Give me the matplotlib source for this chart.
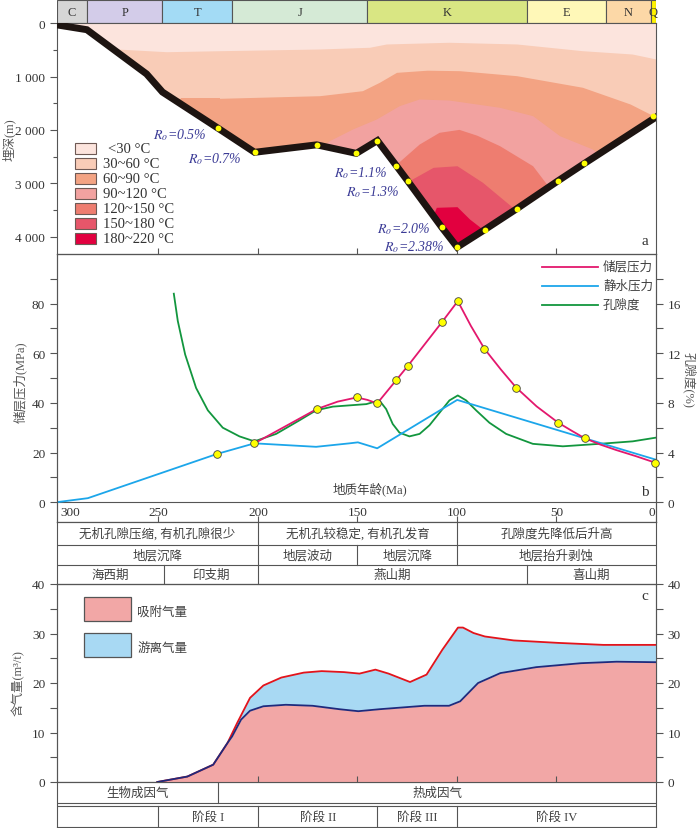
import matplotlib
matplotlib.use("Agg")
import matplotlib.pyplot as plt
import matplotlib.ticker as mtick
from matplotlib.patches import Polygon, Rectangle
from matplotlib.lines import Line2D

plt.rcParams.update({
    "font.family": ["Liberation Serif", "Noto Sans CJK SC"],
    "mathtext.fontset": "stix",
    "axes.linewidth": 0.8,
    "axes.edgecolor": "#555555",
    "xtick.color": "#555555",
    "ytick.color": "#555555",
    "xtick.labelcolor": "#333333",
    "ytick.labelcolor": "#333333",
    "font.size": 9.5,
})

# ---------------- data ----------------
# geologic column (Ma)
period_names = ["C", "P", "T", "J", "K", "E", "N", "Q"]
period_old = [301, 286, 248, 213, 145, 65, 25, 2.6]
period_young = [286, 248, 213, 145, 65, 25, 2.6, 0]
period_colors = ["#d6d6d6", "#d3cce9", "#a3dbf5", "#d5ead6", "#d9e683",
                 "#fff8b8", "#fcd8a7", "#fff200"]

# burial history
burial_t = [301, 286, 256, 248, 220, 201.7, 170.5, 150.6, 140, 130.5, 124.7,
            107.6, 99.9, 86, 70, 49, 36, 0]
burial_d = [30, 120, 950, 1290, 1970, 2420, 2280, 2440, 2200, 2670, 2960,
            3830, 4200, 3870, 3480, 2950, 2630, 1760]
burial_dot_t = [220, 201.7, 170.5, 150.6, 140, 130.5, 124.7, 107.6, 99.9, 86,
                70, 49, 36, 1.5]
burial_dot_d = [1970, 2420, 2280, 2440, 2200, 2670, 2960, 3830, 4200, 3870,
                3480, 2950, 2630, 1745]

# isotherms (Ma, depth m)
iso30_t = [285, 271, 246, 219, 169, 144, 135.5, 104, 70, 37, 12, 0]
iso30_d = [480, 482, 533, 514, 482, 450, 388, 356, 388, 514, 576, 670]
iso60_t = [255, 239, 219, 169, 147.5, 139, 130.4, 115, 98.7, 70, 37, 13, 0]
iso60_d = [1400, 1407, 1407, 1358, 1264, 1107, 920, 880, 889, 983, 1200, 1514, 1760]
iso90_t = [175, 164, 152.5, 140.5, 129, 119, 104, 78.6, 62, 48.5, 32, 20]
iso90_d = [2500, 2200, 1983, 1795, 1545, 1420, 1440, 1576, 1733, 2108, 2358, 2700]
iso120_t = [136, 131.4, 119, 109, 99, 90, 78.6, 62, 55, 50]
iso120_d = [2950, 2672, 2265, 2045, 1990, 2100, 2296, 2672, 3015, 3300]
iso150_t = [128, 125.5, 112, 100, 87.2, 72.1, 68]
iso150_d = [3200, 2983, 2702, 2672, 2983, 3452, 3700]
iso180_t = [113, 110.4, 100, 93.7, 87.2, 84]
iso180_d = [3700, 3452, 3440, 3672, 3860, 4100]

temp_labels = ["<30 °C", "30~60 °C", "60~90 °C", "90~120 °C",
               "120~150 °C", "150~180 °C", "180~220 °C"]
temp_colors = ["#fce4dd", "#f9ccb7", "#f3a383", "#f2a2a0",
               "#ee7d70", "#e6566a", "#e2003f"]

ro_labels = ["0.5%", "0.7%", "1.1%", "1.3%", "2.0%", "2.38%"]
ro_t = [225.9, 208.3, 134.9, 128.9, 113.3, 106.3]
ro_d = [2077, 2527, 2790, 3141, 3841, 4179]

# pressure / porosity
pr_t = [201.8, 170.5, 160, 150.4, 145, 140.1, 130.6, 124.7, 107.6, 99.6, 93,
        86.2, 78, 70.3, 60, 49.1, 42, 35.9, 28, 20, 10, 0]
pr_v = [23.7, 37.5, 40.5, 42.2, 41.2, 39.8, 49.1, 54.9, 72.5, 81, 71, 61.8,
        53.5, 46.2, 38.6, 32, 28.6, 25.8, 23.2, 21.0, 18.5, 15.8]
pr_dot_t = [220.7, 201.8, 170.5, 150.4, 140.1, 130.6, 124.7, 107.6, 99.6,
            86.2, 70.3, 49.1, 35.9, 0.3]
pr_dot_v = [19.4, 23.7, 37.5, 42.2, 39.8, 49.1, 54.9, 72.5, 81, 61.8, 46.2,
            32, 25.8, 15.8]
hp_t = [301, 285.5, 220.7, 201.8, 170.8, 154, 149.8, 140.1, 99.9, 0]
hp_v = [0, 1.6, 19.4, 23.7, 22.3, 23.7, 24.1, 21.7, 41.2, 17.1]
por_t = [242.3, 240.3, 236.6, 231.1, 225.2, 217.7, 209.3, 201.8, 190.9, 179.1,
         170.8, 162.4, 154, 145.6, 139, 135.6, 132.3, 128.9, 123.9, 118.8,
         113.8, 108.8, 103.8, 99.6, 95.4, 90.4, 83.7, 75.3, 61.9, 46.8, 28.4,
         11.7, 0]
por_v = [16.8, 14.6, 11.9, 9.2, 7.4, 6.0, 5.3, 4.9, 5.5, 6.6, 7.4, 7.7, 7.8,
         7.9, 8.2, 7.5, 6.3, 5.6, 5.3, 5.5, 6.2, 7.2, 8.2, 8.6, 8.2, 7.4, 6.4,
         5.5, 4.7, 4.5, 4.7, 4.9, 5.2]

# gas content
tot_t = [250.6, 235.5, 222.5, 215.3, 210.5, 204, 197.3, 188.3, 177, 168,
         156.8, 149, 141, 134.4, 123.6, 115.3, 107.4, 99.5, 97, 91.7, 86,
         71.5, 49, 26.5, 0]
tot_v = [0, 1.1, 3.5, 7.9, 11.9, 17.0, 19.5, 21.1, 22.1, 22.4, 22.2, 21.9,
         22.7, 21.9, 20.2, 21.7, 26.7, 31.2, 31.2, 30.1, 29.4, 28.6, 28.1,
         27.7, 27.7]
ads_t = [250.6, 235.5, 222.5, 215.3, 213, 208.5, 204, 197.3, 186, 172.6, 159,
         149.6, 139, 116.4, 104, 98.4, 89.4, 78.2, 60.2, 37.7, 19.8, 0]
ads_v = [0, 1.1, 3.5, 7.9, 9.2, 12.6, 14.4, 15.3, 15.6, 15.4, 14.7, 14.3,
         14.7, 15.4, 15.4, 16.3, 20, 22, 23.2, 24, 24.3, 24.2]

# table rows (text, cell boundaries in Ma)
row_pore = ["无机孔隙压缩, 有机孔隙很少", "无机孔较稳定, 有机孔发育", "孔隙度先降低后升高"]
row_pore_b = [301, 200, 100, 0]
row_strata = ["地层沉降", "地层波动", "地层沉降", "地层抬升剥蚀"]
row_strata_b = [301, 200, 150, 100, 0]
row_orog = ["海西期", "印支期", "燕山期", "喜山期"]
row_orog_b = [301, 247, 200, 65, 0]
row_gas = ["生物成因气", "热成因气"]
row_gas_b = [301, 220, 0]
row_stage = ["", "阶段 I", "阶段 II", "阶段 III", "阶段 IV"]
row_stage_b = [301, 250, 200, 140, 100, 0]

# ---------------- figure ----------------
W, H = 700, 829
fig = plt.figure(figsize=(W / 100, H / 100), dpi=100)
TXT = "#404040"
EDGE = "#555555"


def box(x0, y0, x1, y1):
    return fig.add_axes([x0 / W, 1 - y1 / H, (x1 - x0) / W, (y1 - y0) / H])


def ftext(px, py, s, **kw):
    fig.text(px / W, 1 - py / H, s, **kw)


XL, XR = 57, 656
AGE = (301, 0)

# geologic column
ax_col = box(XL, 1, XR, 24.3)
ax_col.set_xlim(*AGE)
ax_col.set_ylim(0, 1)
ax_col.barh(0.5, [o - y for o, y in zip(period_old, period_young)], left=period_young,
            height=1, color=period_colors, edgecolor=EDGE, linewidth=0.8)
for n, o, y in zip(period_names, period_old, period_young):
    ax_col.text((o + y) / 2, 0.5, n, ha="center", va="center", fontsize=9,
                color="#333333", clip_on=False)
ax_col.set_xticks([])
ax_col.set_yticks([])
for s in ax_col.spines.values():
    s.set_visible(False)

# ---- panel a ----
ax_a = box(XL, 24.3, XR, 255)
ax_a.set_xlim(*AGE)
ax_a.set_ylim(4328, 0)
clip = Polygon(list(zip(burial_t, burial_d)) + [(0, 0), (301, 0)], closed=True,
               transform=ax_a.transData)
isos = [(iso30_t, iso30_d), (iso60_t, iso60_d), (iso90_t, iso90_d),
        (iso120_t, iso120_d), (iso150_t, iso150_d), (iso180_t, iso180_d)]
fb = ax_a.fill_between([301, 0], 0, 5000, color=temp_colors[0], lw=0)
fb.set_clip_path(clip)
for (t, d), col in zip(isos, temp_colors[1:]):
    fb = ax_a.fill_between(t, d, 5000, color=col, lw=0)
    fb.set_clip_path(clip)
ax_a.plot(burial_t, burial_d, color="#1d1411", lw=5, solid_joinstyle="miter",
          zorder=5)
ax_a.plot(burial_dot_t, burial_dot_d, "o", color="#ffff00", ms=4.2, mew=0,
          zorder=6, clip_on=False)
for lab, t, d in zip(ro_labels, ro_t, ro_d):
    ax_a.text(t, d, r"$R_o$=" + lab, ha="right", va="center", fontsize=10,
              color="#3b3b96", fontstyle="italic")
ax_a.set_yticks([0, 1000, 2000, 3000, 4000])
ax_a.set_yticklabels(["0", "1 000", "2 000", "3 000", "4 000"])
ax_a.yaxis.set_minor_locator(mtick.MultipleLocator(500))
ax_a.tick_params(axis="y", which="major", length=5, width=0.8, direction="out")
ax_a.tick_params(axis="y", which="minor", length=3, width=0.8, direction="out")
ax_a.set_xticks([250, 200, 150, 100, 50])
ax_a.tick_params(axis="x", direction="in", length=4, labelbottom=False)
ax_a.text(5.5, 4084, "a", ha="center", va="center", fontsize=11, color="#333333")

# legend of temperature
for i, (lab, col) in enumerate(zip(temp_labels, temp_colors)):
    cy = 149.5 + 15 * i
    fig.add_artist(Rectangle((75 / W, 1 - (cy + 5.5) / H), 21 / W, 11 / H,
                             transform=fig.transFigure, facecolor=col,
                             edgecolor="#6e5a55", linewidth=0.8))
    ftext(103 if i else 108, cy, lab, ha="left", va="center", fontsize=10.5,
          color="#333333")

ftext(9, 140, "埋深(m)", rotation=90, ha="center", va="center", fontsize=9,
      color="#555555")

# ---- panel b ----
ax_b = box(XL, 255, XR, 523)
ax_b2 = ax_b.twinx()
ax_b.set_zorder(ax_b2.get_zorder() + 1)
ax_b.patch.set_visible(False)
ax_b.set_xlim(*AGE)
ax_b.set_ylim(-8, 100)
ax_b2.set_ylim(-1.6, 20)
ax_b.axhline(0, color=EDGE, lw=0.8)
ax_b2.plot(por_t, por_v, color="#12963e", lw=1.3)
ax_b.plot(hp_t, hp_v, color="#1ca6ea", lw=1.3)
ax_b.plot(pr_t, pr_v, color="#e3186d", lw=1.3)
ax_b.plot(pr_dot_t, pr_dot_v, "o", color="#ffff00", ms=5.5, mec="#444444",
          mew=0.6, zorder=6, clip_on=False)
ax_b.set_yticks([0, 20, 40, 60, 80])
ax_b.yaxis.set_minor_locator(mtick.FixedLocator([10, 30, 50, 70, 90]))
ax_b.tick_params(axis="y", which="major", length=5, width=0.8)
ax_b.tick_params(axis="y", which="minor", length=5, width=0.8)
ax_b2.set_yticks([0, 4, 8, 12, 16])
ax_b2.yaxis.set_minor_locator(mtick.FixedLocator([2, 6, 10, 14, 18]))
ax_b2.tick_params(axis="y", which="both", length=5, width=0.8)
ax_b.set_xticks([250, 200, 150, 100, 50])
ax_b.tick_params(axis="x", direction="in", length=4, labelbottom=False)
for v in [300, 250, 200, 150, 100, 50, 0]:
    ha = "left" if v == 300 else ("right" if v == 0 else "center")
    x = 299.5 if v == 300 else (0.5 if v == 0 else v)
    ax_b.text(x, -3.8, str(v), ha=ha, va="center", fontsize=9.5, color="#333333")
ax_b.text(144, 5.5, "地质年龄(Ma)", ha="center", va="center", fontsize=9,
          color=TXT)
ax_b.text(5.8, 4.3, "b", ha="center", va="center", fontsize=11, color="#333333")

leg_items = [("储层压力", "#e3186d"), ("静水压力", "#1ca6ea"), ("孔隙度", "#12963e")]
for i, (lab, col) in enumerate(leg_items):
    py = 267.7 + 19 * i
    fig.add_artist(Line2D([541.7 / W, 598 / W], [1 - py / H, 1 - py / H],
                          transform=fig.transFigure, color=col, lw=1.3))
    ftext(603, py, lab, ha="left", va="center", fontsize=9, color=TXT)

ftext(20, 382, "储层压力(MPa)", rotation=90, ha="center", va="center",
      fontsize=9, color="#555555")
ftext(689, 380, "孔隙度(%)", rotation=270, ha="center", va="center",
      fontsize=9, color="#555555")


# ---- table helpers ----
def table_row(ax, y0, y1, labels, bounds):
    for b in bounds[1:-1]:
        ax.plot([b, b], [y0, y1], color=EDGE, lw=0.8)
    for lab, a, b in zip(labels, bounds[:-1], bounds[1:]):
        ax.text((a + b) / 2, (y0 + y1) / 2, lab, ha="center", va="center",
                fontsize=9, color=TXT)


def table_axes(y0, y1):
    ax = box(XL, y0, XR, y1)
    ax.set_xlim(*AGE)
    ax.set_ylim(y1, y0)
    ax.set_xticks([])
    ax.set_yticks([])
    return ax


ax_t1 = table_axes(523, 585)
ax_t1.axhline(546, color=EDGE, lw=0.8)
ax_t1.axhline(566, color=EDGE, lw=0.8)
table_row(ax_t1, 523, 546, row_pore, row_pore_b)
table_row(ax_t1, 546, 566, row_strata, row_strata_b)
table_row(ax_t1, 566, 585, row_orog, row_orog_b)

# ---- panel c ----
ax_c = box(XL, 585, XR, 783)
ax_c2 = ax_c.twinx()
ax_c.set_zorder(ax_c2.get_zorder() + 1)
ax_c.patch.set_visible(False)
ax_c.set_xlim(*AGE)
ax_c.set_ylim(0, 40)
ax_c2.set_ylim(0, 40)
ax_c.fill_between(ads_t, 0, ads_v, color="#f2a7a6", lw=0)
ax_c.fill(tot_t + ads_t[::-1], tot_v + ads_v[::-1], color="#a8d9f3", lw=0)
ax_c.plot(tot_t, tot_v, color="#e3141b", lw=1.3)
ax_c.plot(ads_t, ads_v, color="#1f2a7c", lw=1.3)
for ax in (ax_c, ax_c2):
    ax.set_yticks([0, 10, 20, 30, 40])
    ax.yaxis.set_minor_locator(mtick.FixedLocator([5, 15, 25, 35]))
    ax.tick_params(axis="y", which="both", length=5, width=0.8)
ax_c.set_xticks([200, 150, 100, 50])
ax_c.tick_params(axis="x", direction="in", length=4, labelbottom=False)
ax_c.text(5.5, 37.6, "c", ha="center", va="center", fontsize=11, color="#333333")

for (y0, y1, col, lab, ty) in [(598.3, 622.3, "#f2a7a6", "吸附气量", 613),
                               (634.3, 658.3, "#a8d9f3", "游离气量", 649)]:
    fig.add_artist(Rectangle((84 / W, 1 - y1 / H), 47 / W, (y1 - y0) / H,
                             transform=fig.transFigure, facecolor=col,
                             edgecolor="#555555", linewidth=0.9))
    ftext(137, ty, lab, ha="left", va="center", fontsize=9, color=TXT)

ftext(18, 683, "含气量(m³/t)", rotation=90, ha="center", va="center",
      fontsize=9, color="#555555")

ax_t2 = table_axes(783, 828)
ax_t2.axhline(804.5, color=EDGE, lw=0.8)
ax_t2.axhline(806.8, color=EDGE, lw=0.8)
table_row(ax_t2, 783, 804.5, row_gas, row_gas_b)
table_row(ax_t2, 806.8, 828, row_stage, row_stage_b)

fig.savefig("out.png", dpi=100)
